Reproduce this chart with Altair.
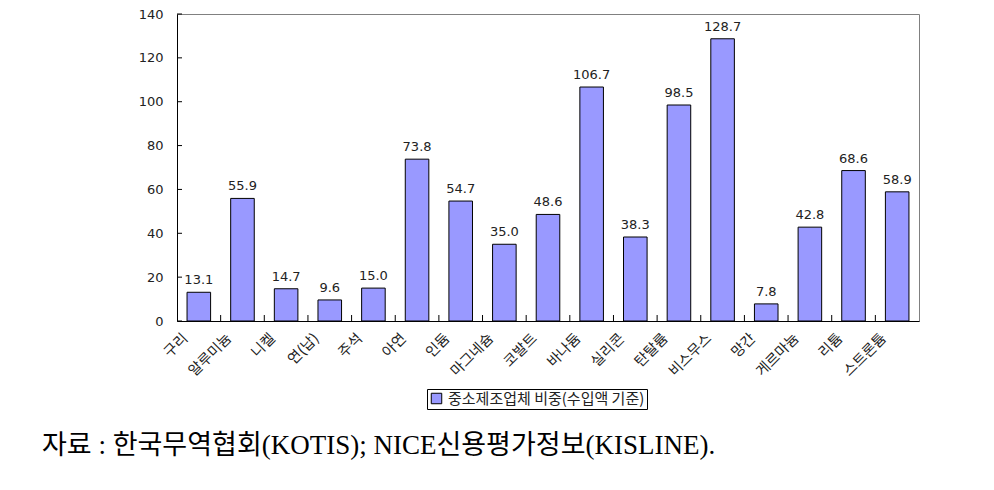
import altair as alt
import pandas as pd

metals = ["구리", "알루미늄", "니켈", "연(납)", "주석", "아연", "인듐", "마그네슘", "코발트",
          "바나듐", "실리콘", "탄탈륨", "비스무스", "망간", "게르마늄", "리튬", "스트론튬"]
shares = [13.1, 55.9, 14.7, 9.6, 15.0, 73.8, 54.7, 35.0, 48.6,
          106.7, 38.3, 98.5, 128.7, 7.8, 42.8, 68.6, 58.9]
y_ticks = [0, 20, 40, 60, 80, 100, 120, 140]
series_name = "중소제조업체 비중(수입액 기준)"
source_note = "자료 : 한국무역협회(KOTIS); NICE신용평가정보(KISLINE)."

W, H = 742, 307
STEP = W / len(metals)

df = pd.DataFrame({
    "metal": metals,
    "value": shares,
    "series": series_name,
    "label": [f"{v:.1f}" for v in shares],
})

xs = alt.Scale(domain=metals, paddingInner=0.46, paddingOuter=0.23)
ys = alt.Scale(domain=[0, 140], nice=False)

x_enc = alt.X(
    "metal:N", scale=xs, sort=metals,
    axis=alt.Axis(title=None, labelAngle=-45, labelAlign="right", labelBaseline="middle",
                  labelOffset=-13, labelPadding=15, ticks=False,
                  labelFont="Noto Sans CJK KR", labelFontSize=14.5, labelColor="#222",
                  domainColor="black", domainWidth=1),
)
y_enc = alt.Y(
    "value:Q", scale=ys,
    axis=alt.Axis(title=None, values=y_ticks, ticks=False, labelPadding=14, grid=False,
                  labelFont="DejaVu Sans", labelFontSize=13, labelColor="#222",
                  domainColor="black", domainWidth=1, format="d"),
)

bars = alt.Chart(df).mark_bar(stroke="black", strokeWidth=1).encode(
    x=x_enc,
    y=y_enc,
    color=alt.Color(
        "series:N",
        scale=alt.Scale(domain=[series_name], range=["#9999FF"]),
        legend=alt.Legend(title=None, orient="none", legendX=250, legendY=375,
                          direction="horizontal", symbolType="square", symbolSize=110,
                          symbolStrokeColor="black", symbolStrokeWidth=1,
                          labelFont="Noto Sans CJK KR", labelFontSize=15, labelColor="#222",
                          labelLimit=0, strokeColor="black", padding=2, fillColor="white"),
    ),
)

labels = alt.Chart(df).mark_text(
    baseline="bottom", dy=-5, font="DejaVu Sans", fontSize=13, color="#222"
).encode(
    x=alt.X("metal:N", scale=xs, sort=metals),
    y=alt.Y("value:Q", scale=ys),
    text="label:N",
)

ytick = alt.Chart(pd.DataFrame({"value": y_ticks})).mark_rule(color="black").encode(
    y=alt.Y("value:Q", scale=ys), x=alt.value(0), x2=alt.value(5)
)

xtick = alt.Chart(pd.DataFrame({"metal": metals[1:]})).mark_rule(
    color="black", xOffset=-STEP / 2
).encode(
    x=alt.X("metal:N", scale=xs, sort=metals), y=alt.value(H - 6), y2=alt.value(H)
)

note = alt.Chart(pd.DataFrame({"t": [source_note]})).mark_text(
    align="left", baseline="alphabetic", font="'Liberation Serif', 'Noto Sans CJK KR'",
    fontSize=27, color="black"
).encode(text="t:N", x=alt.value(42 - 177), y=alt.value(454 - 14))

chart = alt.layer(bars, labels, ytick, xtick, note).properties(
    width=W, height=H,
    padding={"left": 177, "top": 14, "right": 75, "bottom": 169},
    autosize="none",
).configure_view(stroke="#808080", strokeWidth=1)

chart.save("out.html", embed_options={"renderer": "svg", "actions": False})
